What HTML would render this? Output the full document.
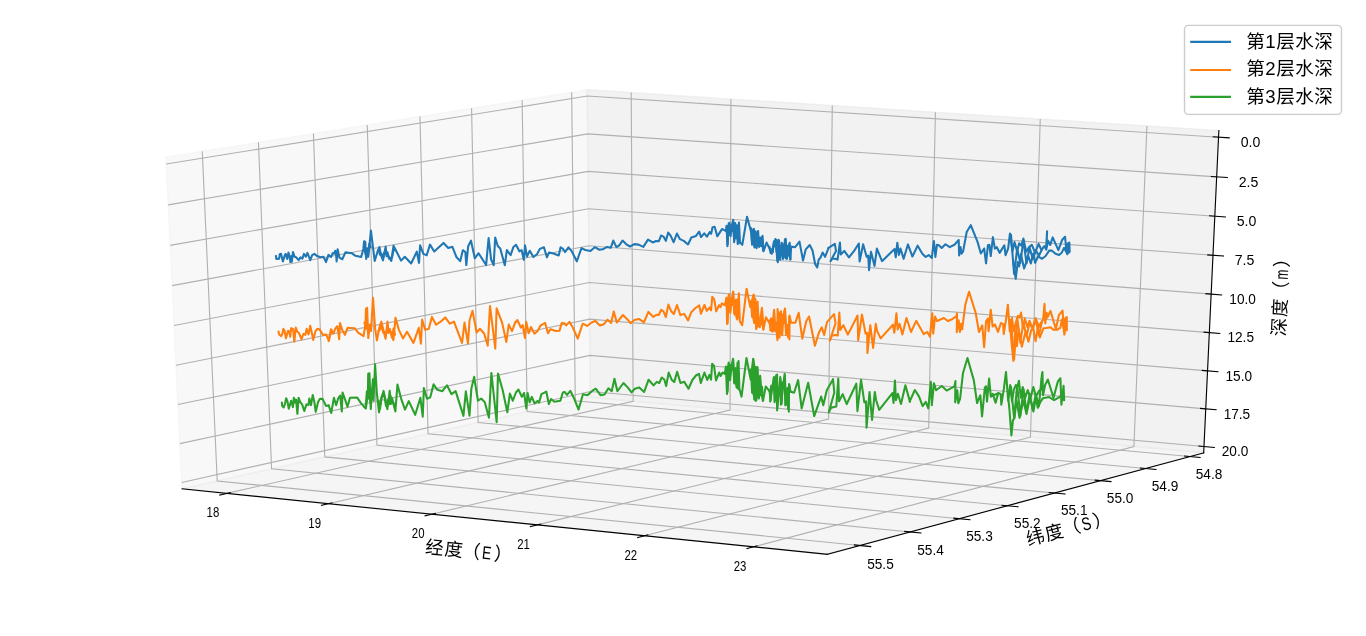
<!DOCTYPE html>
<html lang="zh"><head><meta charset="utf-8"><title>水深</title>
<style>html,body{margin:0;padding:0;background:#fff;overflow:hidden}svg{display:block}svg.t{position:absolute;left:0;top:0;will-change:transform}</style></head>
<body><svg width="1366" height="636" viewBox="0 0 1366 636">
<rect width="1366" height="636" fill="#fff"/>
<polygon points="165.88,157.19 587.26,89.74 590.42,397.43 182.05,488.87" fill="rgb(242,242,242)" fill-opacity="0.5" stroke="rgb(242,242,242)" stroke-opacity="0.5" stroke-width="1.39" stroke-linejoin="miter"/>
<polygon points="587.26,89.74 1218.85,130.55 1203.68,452.81 590.42,397.43" fill="rgb(230,230,230)" fill-opacity="0.5" stroke="rgb(230,230,230)" stroke-opacity="0.5" stroke-width="1.39" stroke-linejoin="miter"/>
<polygon points="182.05,488.87 827.30,554.30 1203.68,452.81 590.42,397.43" fill="rgb(236,236,236)" fill-opacity="0.5" stroke="rgb(236,236,236)" stroke-opacity="0.5" stroke-width="1.39" stroke-linejoin="miter"/>
<g fill="none" stroke="#b0b0b0" stroke-width="1.11" stroke-linejoin="miter">
<polyline points="226.82,493.41 633.15,401.29 631.20,92.58"/>
<polyline points="328.49,503.72 730.07,410.04 730.92,99.02"/>
<polyline points="431.95,514.21 828.57,418.94 832.30,105.58"/>
<polyline points="537.26,524.89 928.68,427.98 935.40,112.24"/>
<polyline points="644.46,535.76 1030.45,437.17 1040.25,119.01"/>
<polyline points="753.61,546.83 1133.91,446.51 1146.90,125.90"/>
<polyline points="859.85,545.52 217.23,480.99 202.26,151.36"/>
<polyline points="910.10,531.97 271.58,468.82 258.44,142.37"/>
<polyline points="959.25,518.72 324.82,456.90 313.43,133.57"/>
<polyline points="1007.35,505.75 376.96,445.23 367.25,124.96"/>
<polyline points="1054.41,493.06 428.04,433.79 419.96,116.52"/>
<polyline points="1100.49,480.64 478.10,422.58 471.57,108.26"/>
<polyline points="1145.60,468.47 527.17,411.59 522.13,100.17"/>
<polyline points="1189.78,456.56 575.27,400.82 571.66,92.24"/>
<polyline points="1218.54,137.19 587.32,96.07 166.22,164.02"/>
<polyline points="1216.67,176.83 587.71,133.88 168.21,204.86"/>
<polyline points="1214.82,216.20 588.10,171.42 170.18,245.40"/>
<polyline points="1212.98,255.27 588.48,208.72 172.14,285.63"/>
<polyline points="1211.15,294.08 588.86,245.76 174.09,325.57"/>
<polyline points="1209.34,332.60 589.24,282.55 176.02,365.22"/>
<polyline points="1207.54,370.85 589.62,319.09 177.94,404.57"/>
<polyline points="1205.75,408.84 589.99,355.39 179.84,443.64"/>
<polyline points="1203.98,446.55 590.36,391.44 181.73,482.43"/>
</g>
<g fill="none" stroke="#000" stroke-width="1.11" stroke-linecap="square">
<polyline points="182.05,488.87 827.30,554.30"/>
<polyline points="827.30,554.30 1203.68,452.81"/>
<polyline points="1203.68,452.81 1218.85,130.55"/>
<polyline points="219.76,495.01 230.35,492.61"/>
<polyline points="321.50,505.35 331.97,502.91"/>
<polyline points="425.05,515.87 435.39,513.38"/>
<polyline points="530.44,526.58 540.66,524.05"/>
<polyline points="637.73,537.48 647.81,534.90"/>
<polyline points="746.97,548.58 756.92,545.96"/>
<polyline points="870.71,546.61 854.42,544.98"/>
<polyline points="920.88,533.04 904.71,531.44"/>
<polyline points="969.96,519.76 953.90,518.20"/>
<polyline points="1017.98,506.77 1002.04,505.24"/>
<polyline points="1064.98,494.06 1049.14,492.56"/>
<polyline points="1110.98,481.61 1095.25,480.15"/>
<polyline points="1156.02,469.43 1140.40,467.99"/>
<polyline points="1200.12,457.50 1184.61,456.09"/>
<polyline points="1229.18,137.88 1213.23,136.84"/>
<polyline points="1227.27,177.56 1211.38,176.47"/>
<polyline points="1225.38,216.95 1209.55,215.82"/>
<polyline points="1223.50,256.06 1207.73,254.88"/>
<polyline points="1221.64,294.89 1205.92,293.67"/>
<polyline points="1219.78,333.44 1204.12,332.18"/>
<polyline points="1217.95,371.72 1202.34,370.42"/>
<polyline points="1216.12,409.74 1200.57,408.39"/>
<polyline points="1214.31,447.48 1198.82,446.09"/>
</g>
<g fill="none" stroke="#1f77b4" stroke-width="2.08" stroke-linejoin="round" stroke-linecap="square">
<polyline points="275.97,256.07 276.29,258.90 279.12,258.77 279.75,254.18 281.01,253.87 282.89,261.42 285.09,254.50 285.72,253.87 287.30,258.90 288.43,252.61 289.50,255.75 290.44,262.04 291.26,256.38 291.82,261.73 292.96,251.98 294.53,256.70 295.79,257.01 298.62,260.16 300.50,257.33 302.39,258.58 303.96,253.87 305.85,256.70 307.42,252.92 310.25,260.16 312.14,255.13 314.34,253.87 317.17,256.07 320.31,257.33 323.46,256.70 325.97,261.73 328.49,255.13 325.94,262.11 328.46,254.87 330.97,257.08 332.86,252.99 334.12,253.62 335.19,250.79 335.82,251.73 336.64,261.48 337.58,249.21 339.47,257.70 342.30,259.28 345.44,252.36 352.04,253.30 355.50,255.82 361.16,257.08 363.36,248.90 364.12,241.23 365.25,241.86 366.19,258.96 367.26,248.27 368.27,256.76 370.91,230.53 374.69,260.97 377.52,251.73 379.40,247.01 380.97,255.19 382.99,260.35 385.66,246.67 386.60,256.10 387.86,255.16 391.32,260.94 393.52,245.72 401.07,260.63 404.84,256.73 411.13,263.46 416.79,251.70 418.99,262.83 420.13,245.28 423.40,253.90 426.67,255.28 430.00,244.65 434.21,251.51 443.52,242.92 448.24,247.96 452.33,246.70 456.42,257.08 460.19,261.16 462.83,250.22 465.35,251.98 466.29,265.06 468.18,246.32 471.01,240.66 474.78,258.27 478.55,253.24 486.10,265.06 488.62,238.14 491.13,259.53 493.65,265.19 495.22,237.52 497.74,246.01 500.25,248.52 504.78,265.31 506.86,250.09 510.63,255.13 513.46,246.95 515.97,244.75 519.43,251.35 521.60,250.13 523.81,259.87 525.06,245.41 526.95,256.42 529.78,250.75 533.36,257.04 537.01,254.21 539.84,248.87 543.93,247.30 546.95,257.36 548.96,252.64 552.74,253.27 558.71,255.47 560.60,247.30 562.80,248.55 565.00,252.01 568.46,247.30 571.60,251.07 576.79,261.32 581.51,248.11 585.28,250.00 590.47,250.94 594.72,247.17 599.43,249.72 602.74,249.34 606.98,246.89 610.75,247.83 613.30,240.57 616.42,247.17 619.25,245.28 622.55,240.57 626.32,244.34 630.09,246.51 634.34,244.15 638.58,244.62 643.30,246.89 648.02,239.62 652.74,242.45 656.04,241.04 658.87,241.23 661.04,235.57 663.49,236.60 665.85,240.85 668.21,232.55 670.57,235.66 673.68,242.26 676.89,233.49 680.00,239.15 683.77,240.85 688.02,244.43 691.32,237.55 696.04,235.94 699.15,231.70 701.04,237.08 704.25,233.30 706.89,236.60 709.72,232.17 711.13,233.77 712.55,227.17 714.62,226.70 717.26,236.32 721.98,229.06 725.28,230.66 726.02,231.23 726.72,225.92 727.43,246.09 728.49,226.28 729.34,222.74 730.62,236.19 731.68,225.92 733.23,219.91 734.15,242.20 735.22,223.09 736.28,238.31 736.99,225.22 737.69,243.97 738.97,222.60 739.96,242.20 742.29,244.82 747.03,216.72 751.37,232.69 752.08,244.72 752.78,231.99 753.85,228.80 754.55,247.55 755.62,231.28 756.68,248.26 758.09,230.92 759.15,246.85 760.22,237.65 761.28,246.14 762.55,235.88 763.54,251.23 766.59,242.60 769.42,248.26 771.75,253.78 773.31,245.43 775.43,239.06 776.49,251.80 778.26,239.77 777.86,262.11 779.04,240.33 780.22,259.59 781.79,242.69 782.97,258.96 784.54,245.44 785.72,238.76 786.90,258.96 788.47,248.58 789.65,242.69 790.28,259.59 791.23,246.62 795.16,247.17 799.48,241.67 803.02,260.53 805.77,249.37 809.70,245.05 812.45,250.16 815.20,264.31 817.17,267.45 818.74,259.59 820.31,258.02 822.67,252.52 825.03,256.84 828.57,248.19 828.14,248.19 834.83,243.87 836.01,250.94 830.50,261.16 832.47,258.41 835.22,258.81 837.58,259.59 839.94,242.45 840.72,254.48 844.26,250.94 848.98,257.39 854.09,250.94 858.81,243.47 859.59,261.56 863.13,244.26 866.67,256.84 868.24,255.66 869.03,270.20 870.99,251.73 874.53,265.88 876.89,248.58 882.00,261.16 894.58,248.98 895.75,257.23 897.33,242.69 898.90,254.87 900.47,248.58 903.62,258.81 907.92,244.43 912.45,256.51 917.64,245.66 922.36,253.68 925.66,256.98 928.77,255.09 931.79,257.92 933.87,240.94 935.38,256.98 936.98,244.72 938.87,245.19 941.70,248.02 945.47,244.25 949.72,247.08 954.43,244.72 958.68,240.00 959.15,255.38 960.57,247.08 961.51,253.68 963.11,251.32 966.70,231.98 970.75,225.19 977.55,241.89 980.85,253.49 984.15,248.49 986.04,263.30 987.92,245.19 989.34,244.72 990.75,256.04 992.92,237.17 994.91,248.58 996.79,247.17 999.62,252.83 1004.34,245.28 1005.57,255.19 1008.11,248.58 1010.00,233.49 1012.43,251.35 1014.55,242.15 1017.17,251.35 1019.15,243.22 1021.28,245.69 1023.40,238.62 1026.23,251.71 1029.06,247.11 1031.89,244.84 1035.08,252.91 1038.62,243.92 1041.45,249.94 1044.28,246.05 1046.05,249.23 1047.11,231.18 1046.32,249.60 1048.09,240.75 1050.22,245.00 1052.69,237.43 1058.35,250.17 1062.25,239.69 1065.08,236.86 1066.49,251.72 1067.91,243.23 1067.20,254.20 1069.32,242.52 1069.68,251.72 1067.20,253.85 1064.02,247.83 1061.89,252.43 1059.06,254.91 1055.52,253.85 1051.99,250.66 1049.15,250.66 1045.62,255.97 1042.08,258.80 1038.26,256.31 1035.08,262.82 1033.31,253.62 1030.83,263.53 1028.35,256.31 1024.11,268.48 1020.92,254.33 1019.15,266.36 1017.74,262.11 1015.69,278.81 1013.14,261.26"/>
<polyline points="726.50,226.67 727.60,244.18 728.70,223.51 729.80,234.81 730.90,225.67 732.00,230.94 733.10,221.01 734.20,240.39 735.30,224.84 736.40,238.28 737.50,227.48 738.60,243.20"/>
<polyline points="751.00,228.25 752.10,242.76 753.20,229.55 754.30,246.19 755.40,232.18 756.50,246.38 757.60,232.63 758.70,245.82 759.80,238.42 760.90,244.90 762.00,237.26 763.10,250.46"/>
<polyline points="769.50,247.02 770.60,253.06 771.70,249.30 772.80,252.38 773.90,241.25 775.00,246.51 776.10,240.05 777.20,260.77 778.30,241.46 779.40,258.13 780.50,246.41 781.60,254.64 782.70,244.26 783.80,257.39 784.90,239.47 786.00,258.36 787.10,245.87 788.20,255.72 789.30,244.04 790.40,258.72"/>
<polyline points="1011.00,235.09 1014.10,273.84 1017.20,248.72 1020.30,263.06 1023.40,240.22 1026.50,263.18 1029.60,247.47 1032.70,258.85 1035.80,250.14 1038.90,255.71 1042.00,249.41"/>
<polyline points="364.50,249.63 365.70,255.08 366.90,250.62 368.10,254.08 369.30,243.85 370.50,247.22"/>
<polyline points="378.50,249.83 380.00,254.80 381.50,253.59 383.00,258.11 384.50,251.94 386.00,253.93 387.50,252.23 389.00,258.67 390.50,257.72 392.00,257.60 393.50,250.03 395.00,250.16"/>
</g>
<g fill="none" stroke="#ff7f0e" stroke-width="2.08" stroke-linejoin="round" stroke-linecap="square">
<polyline points="278.60,331.70 278.92,334.21 281.12,336.10 282.38,333.90 283.32,328.87 284.58,330.75 285.96,338.30 288.04,330.75 289.30,331.70 290.24,336.73 291.18,327.92 292.13,329.81 293.07,328.87 294.33,341.76 295.77,327.61 297.16,331.38 299.04,333.27 301.56,339.25 303.45,333.90 305.33,334.84 306.59,328.87 308.48,334.53 310.24,325.72 311.50,331.38 313.19,339.87 315.40,331.38 317.28,328.87 319.48,329.18 322.94,334.84 326.09,334.53 328.92,340.82 331.43,329.50 328.57,341.16 330.93,329.37 333.29,333.69 335.25,328.58 337.22,326.23 338.16,331.34 339.19,339.20 339.97,323.08 342.33,330.16 344.92,334.87 347.60,327.80 354.52,328.19 358.05,332.52 363.56,336.05 365.52,323.87 365.92,308.93 367.09,307.75 368.27,338.02 369.85,324.65 371.03,330.94 372.99,297.85 375.11,328.58 376.92,340.38 379.28,327.80 381.40,321.67 383.60,330.94 385.57,338.81 387.50,321.62 388.68,333.02 389.86,329.09 393.40,340.09 395.52,317.69 398.90,329.87 403.07,338.52 407.00,331.84 413.45,342.85 418.79,327.91 420.92,343.63 422.09,319.65 425.24,329.87 428.78,328.69 431.92,316.90 436.09,324.76 440.96,321.38 445.30,317.45 449.74,323.58 453.98,321.70 462.00,342.92 464.55,322.64 467.94,343.40 469.55,320.28 472.57,310.85 476.62,332.55 479.92,328.77 484.17,333.49 487.75,345.75 490.02,306.13 495.30,348.58 496.62,308.30 502.09,322.64 506.34,341.98 508.70,324.53 512.00,331.13 515.30,322.17 514.72,323.30 517.36,320.00 520.85,327.55 522.74,325.19 524.91,337.92 526.23,321.89 528.68,333.21 530.94,327.08 534.53,333.68 537.83,330.66 540.38,325.66 545.09,322.83 547.92,333.21 550.57,329.15 555.75,331.04 559.53,330.66 561.70,323.11 564.25,323.30 566.13,325.38 569.43,321.89 572.74,327.55 577.74,338.58 582.64,323.77 586.89,325.66 587.08,326.04 591.32,322.74 595.09,320.85 599.81,325.57 603.58,324.43 607.55,319.72 611.13,322.92 613.77,311.60 616.79,322.55 622.92,315.00 627.17,319.15 630.75,323.21 634.25,320.09 638.96,318.96 643.96,322.26 648.40,311.89 653.40,316.89 656.42,314.72 658.77,315.00 661.13,309.72 663.49,311.42 665.85,317.08 668.40,304.62 671.04,310.94 673.87,314.06 676.98,305.00 680.38,315.09 684.15,313.87 688.11,320.47 691.23,312.26 695.47,308.02 699.25,305.38 700.94,313.68 704.43,305.00 706.79,310.85 709.62,307.55 711.04,310.38 712.26,296.89 714.15,299.06 716.23,311.32 719.06,305.19 720.47,307.08 721.89,303.30 724.72,305.19 726.60,297.64 727.08,324.06 728.96,294.34 730.38,312.74 731.79,298.58 733.21,291.51 734.62,314.62 736.04,299.53 737.17,319.34 738.87,293.40 739.81,321.23 742.17,325.19 746.60,288.68 750.19,306.89 753.68,294.62 755.85,305.94 757.55,301.70 752.26,312.08 754.15,322.92 755.09,311.13 756.23,329.06 757.92,312.08 759.81,327.17 761.89,307.83 763.30,329.72 765.94,317.26 769.43,323.11 771.13,318.40 770.57,330.19 772.74,331.60 774.15,309.91 775.28,331.13 776.23,322.64 777.45,340.09 777.55,308.96 779.34,337.74 780.94,311.32 782.17,335.09 783.40,315.57 785.00,308.49 786.42,335.09 788.02,324.72 789.43,339.43 789.53,315.57 791.13,322.83 795.38,322.64 798.68,312.74 802.26,338.68 806.23,321.23 809.06,316.51 814.91,345.75 818.96,332.55 821.79,327.36 824.15,334.91 826.98,322.17 834.06,314.15 835.57,323.30 829.72,340.75 832.08,335.57 835.38,335.09 837.74,335.57 839.34,312.45 840.28,329.91 843.40,325.19 847.83,334.62 857.55,315.57 858.21,340.28 861.98,314.62 865.57,333.68 867.17,332.74 867.45,353.02 870.28,325.19 873.11,347.83 875.75,323.77 877.08,330.85 880.66,338.40 892.92,324.72 894.34,332.74 896.42,313.40 897.64,329.43 899.53,323.77 902.36,334.15 902.36,334.53 906.51,318.02 911.04,331.98 916.23,320.85 923.77,334.25 927.26,331.98 929.91,336.70 932.26,313.30 933.21,333.58 935.09,316.60 936.98,321.04 943.87,318.02 948.02,321.04 952.55,318.96 956.51,316.13 956.98,313.30 956.79,332.17 958.68,320.38 959.91,331.98 961.04,323.68 962.17,329.34 965.28,304.81 969.06,291.79 975.66,312.83 978.96,331.98 982.26,325.38 984.15,347.26 986.04,321.32 987.92,318.49 988.58,331.23 990.75,309.72 992.64,326.51 992.70,326.35 994.90,324.48 997.98,331.85 1000.95,323.05 1003.15,324.15 1003.70,334.05 1005.90,320.30 1007.88,304.90 1009.75,331.30 1011.95,318.10 1013.82,331.30 1015.80,322.50 1018.00,315.90 1019.65,317.55 1021.08,312.60 1022.95,328.55 1024.82,318.65 1027.35,326.90 1029.55,320.85 1032.30,328.55 1035.61,318.10 1038.91,326.90 1041.66,321.95 1039.20,325.43 1043.09,319.77 1044.51,303.85 1045.22,323.31 1046.63,312.69 1047.34,317.65 1050.52,310.92 1055.83,328.97 1059.02,314.82 1062.55,310.57 1064.32,334.63 1065.39,318.35 1066.80,317.08 1066.87,330.39 1065.74,319.77 1064.54,334.28 1061.85,319.42 1060.43,327.55 1057.60,329.68 1053.35,329.68 1050.52,327.20 1046.28,327.91 1043.45,328.26 1039.91,337.46 1037.81,328.00 1035.61,341.20 1033.40,329.10 1031.20,330.20 1028.45,341.75 1025.70,331.30 1021.85,346.71 1018.55,329.10 1016.90,346.16 1015.25,331.30 1013.38,361.01 1011.40,341.20 1010.52,331.30"/>
<polyline points="726.50,298.64 727.60,323.14 728.70,295.89 729.80,311.10 730.90,298.63 732.00,304.91 733.10,292.66 734.20,313.17 735.30,301.18 736.40,317.51 737.50,299.65 738.60,317.37"/>
<polyline points="751.00,301.13 752.10,316.87 753.20,295.50 754.30,321.69 755.40,298.98 756.50,327.99 757.60,302.59 758.70,326.49 759.80,318.56 760.90,324.80 762.00,309.27 763.10,328.65"/>
<polyline points="769.50,320.75 770.60,330.32 771.70,319.08 772.80,330.97 773.90,311.28 775.00,330.35 776.10,324.24 777.20,337.34 778.30,311.97 779.40,336.50 780.50,312.58 781.60,333.14 782.70,314.84 783.80,322.90 784.90,309.53 786.00,333.97 787.10,326.10 788.20,337.47 789.30,316.94 790.40,322.22"/>
<polyline points="1011.00,320.05 1014.10,359.09 1017.20,317.50 1020.30,342.71 1023.40,322.47 1026.50,336.16 1029.60,322.59 1032.70,328.60 1035.80,319.73 1038.90,335.36 1042.00,321.50"/>
<polyline points="364.50,322.68 365.70,328.68 366.90,323.15 368.10,332.99 369.30,330.88 370.50,329.42"/>
<polyline points="378.50,330.92 380.00,329.66 381.50,324.67 383.00,332.39 384.50,331.98 386.00,334.85 387.50,326.91 389.00,330.39 390.50,331.91 392.00,337.74 393.50,328.61 395.00,334.51"/>
</g>
<g fill="none" stroke="#2ca02c" stroke-width="2.08" stroke-linejoin="round" stroke-linecap="square">
<polyline points="281.92,402.80 282.08,405.55 283.65,407.52 285.06,403.58 286.16,398.24 287.42,401.23 288.76,408.69 291.12,400.83 292.92,407.12 293.87,397.69 295.28,402.80 296.07,399.65 297.41,413.81 298.58,397.69 300.16,402.01 302.12,404.37 304.25,411.05 306.45,404.37 308.41,405.16 309.36,398.47 311.01,405.16 312.74,394.94 314.31,401.62 315.72,411.84 318.08,402.01 319.97,398.71 322.56,398.87 326.10,405.94 328.62,405.16 331.21,413.02 333.96,397.69 336.13,405.28 338.02,398.68 340.19,395.66 341.79,411.42 342.55,392.55 345.09,399.62 347.45,406.70 350.00,397.74 357.17,397.55 361.13,403.40 365.85,408.58 367.92,393.02 368.21,373.68 369.43,373.21 370.75,409.06 371.98,391.13 372.92,379.34 373.58,400.57 375.09,364.25 376.89,393.96 379.06,412.36 381.42,397.74 383.58,390.94 385.66,401.51 387.36,409.06 387.36,409.15 389.72,390.75 390.85,403.96 392.08,398.30 395.38,411.51 397.45,384.62 401.04,398.30 405.00,409.62 408.77,401.13 415.19,414.81 420.38,397.83 422.74,416.70 423.87,387.92 426.98,398.77 430.28,397.36 433.58,384.34 437.36,389.81 442.36,391.23 446.93,385.35 451.55,394.15 455.62,391.18 463.43,415.83 465.85,391.40 469.48,415.61 471.35,388.65 474.10,376.88 477.95,400.75 481.25,398.55 484.88,402.40 488.95,417.81 491.38,372.92 496.66,422.21 497.98,373.58 502.71,390.30 507.33,412.30 509.86,393.60 512.83,400.75 515.91,392.50 518.33,389.75 518.38,389.48 521.90,396.85 524.10,393.00 526.30,408.40 527.62,393.00 529.60,402.35 531.80,396.85 534.55,403.45 537.52,400.92 538.95,402.68 541.48,394.10 546.32,391.68 548.85,404.00 551.05,399.05 554.35,401.80 560.40,400.70 562.83,392.45 564.59,391.90 567.01,394.98 570.31,390.80 573.83,397.95 578.56,409.50 582.96,394.32 587.36,395.20 587.50,395.10 592.45,390.70 595.75,388.72 600.48,395.10 604.55,394.55 608.40,388.28 611.70,391.25 614.45,378.82 617.42,391.25 623.47,383.00 627.65,387.40 631.50,392.35 634.81,388.72 639.21,387.40 644.16,392.02 648.56,379.70 653.51,385.42 656.81,381.90 659.23,383.00 661.76,377.50 664.29,379.48 666.16,386.08 668.69,372.55 671.66,379.70 674.19,382.12 677.16,371.78 680.46,383.00 684.32,381.85 688.50,388.78 692.35,379.98 696.20,375.25 698.95,373.82 700.82,382.95 704.45,372.50 707.20,379.98 709.40,374.92 711.05,379.65 712.15,363.70 714.02,365.90 716.00,380.42 719.30,372.50 720.62,376.02 722.61,372.50 724.81,373.82 725.91,366.45 727.01,393.95 728.66,362.60 730.09,380.20 731.41,367.00 733.06,358.75 734.49,383.50 735.81,368.10 737.13,387.90 738.56,360.95 739.33,388.45 741.53,396.71 746.48,357.98 750.69,379.56 753.21,358.81 755.35,372.64 757.23,366.98 752.58,391.51 755.72,400.94 756.98,386.48 758.87,398.43 760.13,375.79 761.64,394.03 762.89,400.94 765.79,386.48 770.19,392.14 771.19,385.85 770.19,401.57 773.96,377.04 774.59,402.20 777.11,374.53 777.11,410.38 780.25,377.04 780.88,404.72 784.65,373.90 785.28,405.35 787.55,387.74 788.81,411.64 789.06,383.96 790.31,391.51 794.09,392.77 798.11,380.19 801.64,408.49 808.18,382.70 814.21,416.04 821.13,396.54 823.27,405.35 826.79,390.25 833.08,379.18 833.00,379.08 834.32,392.50 828.82,412.30 831.35,407.35 833.00,407.35 836.30,406.58 838.28,378.42 839.05,401.30 842.68,394.15 846.75,404.05 856.32,383.70 857.42,411.20 861.05,379.85 864.35,402.40 866.00,401.30 866.55,427.71 869.52,391.95 872.06,420.01 874.81,391.95 876.13,400.20 879.21,409.88 892.41,393.05 893.51,402.95 894.94,380.62 895.93,400.20 897.91,393.82 900.99,404.05 905.39,385.35 910.01,401.85 909.62,401.58 914.85,389.98 919.09,396.63 922.63,406.10 925.74,401.86 928.29,408.37 930.83,381.78 931.82,405.11 933.95,383.19 936.07,390.26 941.73,386.02 946.68,390.54 954.46,386.30 955.45,381.07 955.16,402.28 957.28,390.26 958.27,403.27 960.11,398.75 962.94,373.29 967.47,358.01 973.83,380.36 977.09,402.99 980.34,395.21 982.04,416.43 984.87,387.43 986.00,386.30 986.99,401.58 989.11,378.66 990.81,396.63 993.07,394.50 995.47,402.71 998.30,393.09 991.03,396.45 992.79,393.94 995.68,402.74 998.20,392.93 1000.71,393.94 1001.34,404.62 1003.85,388.91 1005.99,371.94 1008.25,401.48 1010.14,385.14 1012.02,401.48 1013.66,390.17 1015.79,385.14 1017.43,386.65 1018.94,380.74 1020.82,397.71 1022.71,387.02 1025.22,397.71 1027.74,390.17 1030.50,397.71 1033.39,387.02 1035.90,396.45 1039.05,390.79 1040.93,389.54 1042.44,371.94 1043.07,395.19 1045.08,385.14 1047.85,379.48 1053.50,397.71 1057.90,381.37 1060.41,378.23 1061.42,404.62 1063.56,385.77 1064.19,400.22 1060.41,396.45 1058.53,397.71 1054.13,400.22 1049.10,397.08 1042.82,398.34 1040.30,402.11 1037.79,407.76 1035.90,397.71 1033.39,411.53 1030.88,400.22 1028.99,402.11 1026.48,414.05 1023.34,400.22 1019.57,417.82 1016.42,400.22 1014.54,417.82 1012.90,420.33 1011.40,435.41 1009.51,410.28 1008.63,401.48"/>
<polyline points="726.50,367.12 727.60,391.64 728.70,363.69 729.80,379.50 730.90,365.15 732.00,369.50 733.10,360.04 734.20,382.78 735.30,369.98 736.40,386.85 737.50,362.68 738.60,389.24"/>
<polyline points="751.00,369.37 752.10,392.77 753.20,359.49 754.30,399.38 755.40,367.10 756.50,399.98 757.60,367.67 758.70,397.39 759.80,377.24 760.90,395.42 762.00,386.90 763.10,399.84"/>
<polyline points="769.50,390.57 770.60,400.25 771.70,385.84 772.80,389.84 773.90,378.03 775.00,400.39 776.10,375.24 777.20,407.76 778.30,387.73 779.40,395.02 780.50,379.23 781.60,403.96 782.70,382.27 783.80,387.61 784.90,375.73 786.00,404.59 787.10,388.73 788.20,408.95 789.30,384.80 790.40,391.31"/>
<polyline points="1011.00,387.26 1014.10,418.27 1017.20,385.24 1020.30,416.08 1023.40,389.00 1026.50,412.10 1029.60,394.12 1032.70,409.87 1035.80,393.92 1038.90,406.14 1042.00,374.01"/>
<polyline points="364.50,407.18 365.70,406.51 366.90,391.29 368.10,398.83 369.30,390.78 370.50,402.24"/>
<polyline points="378.50,400.67 380.00,408.76 381.50,397.90 383.00,395.93 384.50,395.79 386.00,405.86 387.50,400.51 389.00,404.33 390.50,395.69 392.00,403.20 393.50,402.88 395.00,408.04"/>
</g>
<rect x="1184.5" y="25.4" width="157.0" height="89.0" rx="3.9" ry="3.9" fill="#fff" fill-opacity="0.8" stroke="#ccc" stroke-width="1.39"/>
<line x1="1190.2" x2="1231.0" y1="41.9" y2="41.9" stroke="#1f77b4" stroke-width="2.08"/>
<line x1="1190.2" x2="1231.0" y1="70.0" y2="70.0" stroke="#ff7f0e" stroke-width="2.08"/>
<line x1="1190.2" x2="1231.0" y1="96.9" y2="96.9" stroke="#2ca02c" stroke-width="2.08"/>
</svg>
<svg class="t" width="1366" height="636" viewBox="0 0 1366 636">
<g font-family="'Liberation Sans','Noto Sans CJK SC',sans-serif" font-size="13.89px" fill="#000" >
<text x="212.96" y="517.06" text-anchor="middle" textLength="12.69" lengthAdjust="spacingAndGlyphs">18</text>
<text x="314.69" y="527.51" text-anchor="middle" textLength="12.69" lengthAdjust="spacingAndGlyphs">19</text>
<text x="418.21" y="538.14" text-anchor="middle" textLength="12.69" lengthAdjust="spacingAndGlyphs">20</text>
<text x="523.58" y="548.96" text-anchor="middle" textLength="12.69" lengthAdjust="spacingAndGlyphs">21</text>
<text x="630.86" y="559.97" text-anchor="middle" textLength="12.69" lengthAdjust="spacingAndGlyphs">22</text>
<text x="740.08" y="571.19" text-anchor="middle" textLength="12.69" lengthAdjust="spacingAndGlyphs">23</text>
<text x="880.45" y="568.53" text-anchor="middle" textLength="26.58" lengthAdjust="spacingAndGlyphs">55.5</text>
<text x="930.50" y="554.83" text-anchor="middle" textLength="26.58" lengthAdjust="spacingAndGlyphs">55.4</text>
<text x="979.46" y="541.43" text-anchor="middle" textLength="26.58" lengthAdjust="spacingAndGlyphs">55.3</text>
<text x="1027.36" y="528.31" text-anchor="middle" textLength="26.58" lengthAdjust="spacingAndGlyphs">55.2</text>
<text x="1074.24" y="515.48" text-anchor="middle" textLength="26.58" lengthAdjust="spacingAndGlyphs">55.1</text>
<text x="1120.13" y="502.92" text-anchor="middle" textLength="26.58" lengthAdjust="spacingAndGlyphs">55.0</text>
<text x="1165.06" y="490.62" text-anchor="middle" textLength="26.58" lengthAdjust="spacingAndGlyphs">54.9</text>
<text x="1209.06" y="478.58" text-anchor="middle" textLength="26.58" lengthAdjust="spacingAndGlyphs">54.8</text>
<text x="1250.50" y="147.10" text-anchor="middle" textLength="19.64" lengthAdjust="spacingAndGlyphs">0.0</text>
<text x="1248.52" y="186.71" text-anchor="middle" textLength="19.64" lengthAdjust="spacingAndGlyphs">2.5</text>
<text x="1246.55" y="226.03" text-anchor="middle" textLength="19.64" lengthAdjust="spacingAndGlyphs">5.0</text>
<text x="1244.60" y="265.08" text-anchor="middle" textLength="19.64" lengthAdjust="spacingAndGlyphs">7.5</text>
<text x="1242.66" y="303.84" text-anchor="middle" textLength="26.58" lengthAdjust="spacingAndGlyphs">10.0</text>
<text x="1240.74" y="342.33" text-anchor="middle" textLength="26.58" lengthAdjust="spacingAndGlyphs">12.5</text>
<text x="1238.83" y="380.55" text-anchor="middle" textLength="26.58" lengthAdjust="spacingAndGlyphs">15.0</text>
<text x="1236.93" y="418.50" text-anchor="middle" textLength="26.58" lengthAdjust="spacingAndGlyphs">17.5</text>
<text x="1235.05" y="456.18" text-anchor="middle" textLength="26.58" lengthAdjust="spacingAndGlyphs">20.0</text>
</g>
<g font-family="'Liberation Sans','Noto Sans CJK SC',sans-serif" font-size="18.30px" fill="#000" >
<g transform="translate(463.50,550.40) rotate(5.79)">
<text x="-38.31" y="6.59" letter-spacing="1.14">经度</text>
<text x="-1.43" y="6.59">（</text>
<text transform="translate(23.50,6.59) scale(0.76,1)" text-anchor="middle">E</text>
<text x="30.73" y="6.59">）</text>
</g>
<g transform="translate(1063.60,529.60) rotate(-15.09)">
<text x="-38.31" y="6.59" letter-spacing="1.14">纬度</text>
<text x="-1.43" y="6.59">（</text>
<text transform="translate(23.50,6.59) scale(0.76,1)" text-anchor="middle">S</text>
<text x="30.73" y="6.59">）</text>
</g>
<g transform="translate(1280.20,298.00) rotate(-87.30)">
<text x="-38.31" y="6.59" letter-spacing="1.14">深度</text>
<text x="-1.43" y="6.59">（</text>
<text transform="translate(23.50,6.59) scale(0.65,1)" text-anchor="middle">m</text>
<text x="30.73" y="6.59">）</text>
</g>
</g>
<g font-family="'Liberation Sans','Noto Sans CJK SC',sans-serif" font-size="18.60px" fill="#000" >
<text x="1246.3" y="48.0" textLength="86.6" lengthAdjust="spacing">第1层水深</text>
<text x="1246.3" y="75.1" textLength="86.6" lengthAdjust="spacing">第2层水深</text>
<text x="1246.3" y="102.9" textLength="86.6" lengthAdjust="spacing">第3层水深</text>
</g>
</svg></body></html>
